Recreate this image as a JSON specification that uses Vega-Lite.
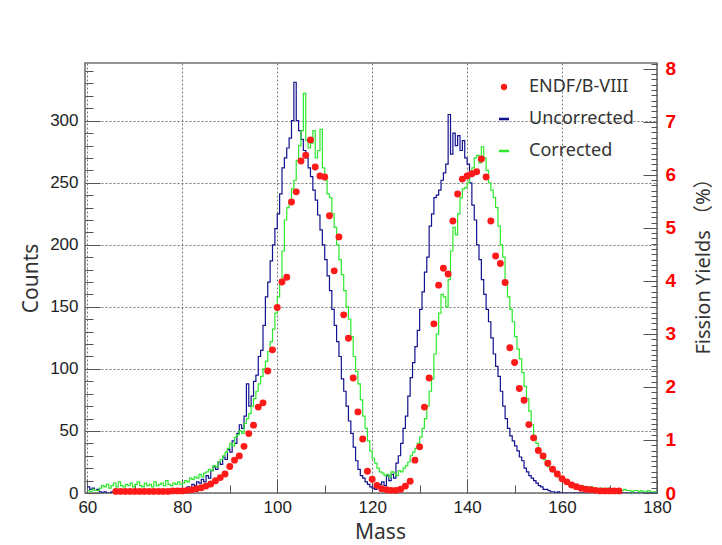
{
  "$schema": "https://vega.github.io/schema/vega-lite/v6.json",
  "width": 572,
  "height": 430,
  "autosize": {"type": "none"},
  "padding": {"left": 85, "top": 63, "right": 65, "bottom": 52},
  "background": "white",
  "config": {
    "view": {"stroke": "#707070", "strokeWidth": 1.6},
    "axis": {"domain": false, "labelFlush": false, "labelOverlap": false, "tickColor": "#555555", "tickWidth": 1}
  },
  "datasets": {
    "hist": [
      {"m":60,"Uncorrected":5,"Corrected":2},{"m":60.5,"Uncorrected":3,"Corrected":1},{"m":61,"Uncorrected":4,"Corrected":3},{"m":61.5,"Uncorrected":2,"Corrected":2},
      {"m":62,"Uncorrected":3,"Corrected":2},{"m":62.5,"Uncorrected":1,"Corrected":4},{"m":63,"Uncorrected":0,"Corrected":6},{"m":63.5,"Uncorrected":1,"Corrected":5},
      {"m":64,"Uncorrected":0,"Corrected":7},{"m":64.5,"Uncorrected":0,"Corrected":4},{"m":65,"Uncorrected":1,"Corrected":6},{"m":65.5,"Uncorrected":0,"Corrected":8},
      {"m":66,"Uncorrected":0,"Corrected":5},{"m":66.5,"Uncorrected":1,"Corrected":9},{"m":67,"Uncorrected":0,"Corrected":6},{"m":67.5,"Uncorrected":0,"Corrected":5},
      {"m":68,"Uncorrected":1,"Corrected":7},{"m":68.5,"Uncorrected":0,"Corrected":6},{"m":69,"Uncorrected":0,"Corrected":8},{"m":69.5,"Uncorrected":1,"Corrected":5},
      {"m":70,"Uncorrected":0,"Corrected":7},{"m":70.5,"Uncorrected":0,"Corrected":9},{"m":71,"Uncorrected":1,"Corrected":6},{"m":71.5,"Uncorrected":0,"Corrected":5},
      {"m":72,"Uncorrected":1,"Corrected":8},{"m":72.5,"Uncorrected":0,"Corrected":6},{"m":73,"Uncorrected":0,"Corrected":7},{"m":73.5,"Uncorrected":1,"Corrected":5},
      {"m":74,"Uncorrected":0,"Corrected":9},{"m":74.5,"Uncorrected":1,"Corrected":6},{"m":75,"Uncorrected":0,"Corrected":7},{"m":75.5,"Uncorrected":1,"Corrected":8},
      {"m":76,"Uncorrected":0,"Corrected":6},{"m":76.5,"Uncorrected":1,"Corrected":10},{"m":77,"Uncorrected":1,"Corrected":7},{"m":77.5,"Uncorrected":0,"Corrected":6},
      {"m":78,"Uncorrected":2,"Corrected":8},{"m":78.5,"Uncorrected":1,"Corrected":7},{"m":79,"Uncorrected":1,"Corrected":9},{"m":79.5,"Uncorrected":2,"Corrected":7},
      {"m":80,"Uncorrected":3,"Corrected":8},{"m":80.5,"Uncorrected":2,"Corrected":10},{"m":81,"Uncorrected":5,"Corrected":9},{"m":81.5,"Uncorrected":4,"Corrected":12},
      {"m":82,"Uncorrected":7,"Corrected":11},{"m":82.5,"Uncorrected":6,"Corrected":13},{"m":83,"Uncorrected":9,"Corrected":12},{"m":83.5,"Uncorrected":8,"Corrected":15},
      {"m":84,"Uncorrected":11,"Corrected":13},{"m":84.5,"Uncorrected":9,"Corrected":16},{"m":85,"Uncorrected":14,"Corrected":17},{"m":85.5,"Uncorrected":12,"Corrected":19},
      {"m":86,"Uncorrected":18,"Corrected":18},{"m":86.5,"Uncorrected":21,"Corrected":22},{"m":87,"Uncorrected":19,"Corrected":21},{"m":87.5,"Uncorrected":25,"Corrected":25},
      {"m":88,"Uncorrected":23,"Corrected":27},{"m":88.5,"Uncorrected":29,"Corrected":30},{"m":89,"Uncorrected":27,"Corrected":33},{"m":89.5,"Uncorrected":35,"Corrected":36},
      {"m":90,"Uncorrected":33,"Corrected":40},{"m":90.5,"Uncorrected":42,"Corrected":38},{"m":91,"Uncorrected":40,"Corrected":45},{"m":91.5,"Uncorrected":48,"Corrected":47},
      {"m":92,"Uncorrected":55,"Corrected":50},{"m":92.5,"Uncorrected":52,"Corrected":48},{"m":93,"Uncorrected":62,"Corrected":56},{"m":93.5,"Uncorrected":88,"Corrected":60},
      {"m":94,"Uncorrected":70,"Corrected":64},{"m":94.5,"Uncorrected":78,"Corrected":70},{"m":95,"Uncorrected":90,"Corrected":76},{"m":95.5,"Uncorrected":95,"Corrected":82},
      {"m":96,"Uncorrected":110,"Corrected":88},{"m":96.5,"Uncorrected":115,"Corrected":94},{"m":97,"Uncorrected":135,"Corrected":100},{"m":97.5,"Uncorrected":158,"Corrected":106},
      {"m":98,"Uncorrected":170,"Corrected":114},{"m":98.5,"Uncorrected":187,"Corrected":122},{"m":99,"Uncorrected":200,"Corrected":132},{"m":99.5,"Uncorrected":213,"Corrected":145},
      {"m":100,"Uncorrected":225,"Corrected":158},{"m":100.5,"Uncorrected":241,"Corrected":172},{"m":101,"Uncorrected":262,"Corrected":195},{"m":101.5,"Uncorrected":270,"Corrected":220},
      {"m":102,"Uncorrected":278,"Corrected":230},{"m":102.5,"Uncorrected":286,"Corrected":235},{"m":103,"Uncorrected":300,"Corrected":245},{"m":103.5,"Uncorrected":331,"Corrected":252},
      {"m":104,"Uncorrected":300,"Corrected":268},{"m":104.5,"Uncorrected":292,"Corrected":280},{"m":105,"Uncorrected":285,"Corrected":292},{"m":105.5,"Uncorrected":276,"Corrected":322},
      {"m":106,"Uncorrected":270,"Corrected":284},{"m":106.5,"Uncorrected":262,"Corrected":278},{"m":107,"Uncorrected":255,"Corrected":282},{"m":107.5,"Uncorrected":244,"Corrected":292},
      {"m":108,"Uncorrected":236,"Corrected":270},{"m":108.5,"Uncorrected":224,"Corrected":276},{"m":109,"Uncorrected":212,"Corrected":293},{"m":109.5,"Uncorrected":200,"Corrected":262},
      {"m":110,"Uncorrected":188,"Corrected":252},{"m":110.5,"Uncorrected":175,"Corrected":241},{"m":111,"Uncorrected":163,"Corrected":238},{"m":111.5,"Uncorrected":148,"Corrected":225},
      {"m":112,"Uncorrected":135,"Corrected":214},{"m":112.5,"Uncorrected":122,"Corrected":200},{"m":113,"Uncorrected":110,"Corrected":188},{"m":113.5,"Uncorrected":92,"Corrected":176},
      {"m":114,"Uncorrected":82,"Corrected":163},{"m":114.5,"Uncorrected":70,"Corrected":150},{"m":115,"Uncorrected":58,"Corrected":140},{"m":115.5,"Uncorrected":48,"Corrected":126},
      {"m":116,"Uncorrected":37,"Corrected":110},{"m":116.5,"Uncorrected":26,"Corrected":98},{"m":117,"Uncorrected":19,"Corrected":88},{"m":117.5,"Uncorrected":14,"Corrected":75},
      {"m":118,"Uncorrected":12,"Corrected":62},{"m":118.5,"Uncorrected":9,"Corrected":52},{"m":119,"Uncorrected":7,"Corrected":42},{"m":119.5,"Uncorrected":5,"Corrected":34},
      {"m":120,"Uncorrected":4,"Corrected":28},{"m":120.5,"Uncorrected":3,"Corrected":24},{"m":121,"Uncorrected":5,"Corrected":20},{"m":121.5,"Uncorrected":7,"Corrected":17},
      {"m":122,"Uncorrected":9,"Corrected":16},{"m":122.5,"Uncorrected":6,"Corrected":14},{"m":123,"Uncorrected":14,"Corrected":15},{"m":123.5,"Uncorrected":10,"Corrected":13},
      {"m":124,"Uncorrected":15,"Corrected":17},{"m":124.5,"Uncorrected":12,"Corrected":16},{"m":125,"Uncorrected":24,"Corrected":14},{"m":125.5,"Uncorrected":30,"Corrected":18},
      {"m":126,"Uncorrected":40,"Corrected":17},{"m":126.5,"Uncorrected":52,"Corrected":20},{"m":127,"Uncorrected":62,"Corrected":22},{"m":127.5,"Uncorrected":78,"Corrected":25},
      {"m":128,"Uncorrected":93,"Corrected":30},{"m":128.5,"Uncorrected":105,"Corrected":33},{"m":129,"Uncorrected":118,"Corrected":36},{"m":129.5,"Uncorrected":131,"Corrected":40},
      {"m":130,"Uncorrected":148,"Corrected":45},{"m":130.5,"Uncorrected":162,"Corrected":52},{"m":131,"Uncorrected":178,"Corrected":60},{"m":131.5,"Uncorrected":190,"Corrected":70},
      {"m":132,"Uncorrected":215,"Corrected":82},{"m":132.5,"Uncorrected":225,"Corrected":92},{"m":133,"Uncorrected":238,"Corrected":112},{"m":133.5,"Uncorrected":240,"Corrected":128},
      {"m":134,"Uncorrected":244,"Corrected":145},{"m":134.5,"Uncorrected":252,"Corrected":160},{"m":135,"Uncorrected":258,"Corrected":158},{"m":135.5,"Uncorrected":265,"Corrected":150},
      {"m":136,"Uncorrected":305,"Corrected":172},{"m":136.5,"Uncorrected":273,"Corrected":195},{"m":137,"Uncorrected":290,"Corrected":214},{"m":137.5,"Uncorrected":280,"Corrected":208},
      {"m":138,"Uncorrected":288,"Corrected":225},{"m":138.5,"Uncorrected":276,"Corrected":238},{"m":139,"Uncorrected":284,"Corrected":245},{"m":139.5,"Uncorrected":270,"Corrected":246},
      {"m":140,"Uncorrected":265,"Corrected":250},{"m":140.5,"Uncorrected":250,"Corrected":255},{"m":141,"Uncorrected":232,"Corrected":262},{"m":141.5,"Uncorrected":220,"Corrected":270},
      {"m":142,"Uncorrected":200,"Corrected":272},{"m":142.5,"Uncorrected":188,"Corrected":266},{"m":143,"Uncorrected":172,"Corrected":279},{"m":143.5,"Uncorrected":160,"Corrected":270},
      {"m":144,"Uncorrected":148,"Corrected":260},{"m":144.5,"Uncorrected":138,"Corrected":250},{"m":145,"Uncorrected":125,"Corrected":244},{"m":145.5,"Uncorrected":112,"Corrected":238},
      {"m":146,"Uncorrected":102,"Corrected":230},{"m":146.5,"Uncorrected":94,"Corrected":215},{"m":147,"Uncorrected":82,"Corrected":200},{"m":147.5,"Uncorrected":70,"Corrected":190},
      {"m":148,"Uncorrected":60,"Corrected":170},{"m":148.5,"Uncorrected":52,"Corrected":158},{"m":149,"Uncorrected":46,"Corrected":148},{"m":149.5,"Uncorrected":42,"Corrected":138},
      {"m":150,"Uncorrected":38,"Corrected":126},{"m":150.5,"Uncorrected":34,"Corrected":116},{"m":151,"Uncorrected":29,"Corrected":108},{"m":151.5,"Uncorrected":26,"Corrected":97},
      {"m":152,"Uncorrected":20,"Corrected":86},{"m":152.5,"Uncorrected":17,"Corrected":76},{"m":153,"Uncorrected":14,"Corrected":66},{"m":153.5,"Uncorrected":12,"Corrected":55},
      {"m":154,"Uncorrected":10,"Corrected":46},{"m":154.5,"Uncorrected":8,"Corrected":40},{"m":155,"Uncorrected":6,"Corrected":34},{"m":155.5,"Uncorrected":5,"Corrected":30},
      {"m":156,"Uncorrected":3,"Corrected":27},{"m":156.5,"Uncorrected":3,"Corrected":24},{"m":157,"Uncorrected":2,"Corrected":21},{"m":157.5,"Uncorrected":1,"Corrected":19},
      {"m":158,"Uncorrected":1,"Corrected":17},{"m":158.5,"Uncorrected":0,"Corrected":15},{"m":159,"Uncorrected":1,"Corrected":13},{"m":159.5,"Uncorrected":0,"Corrected":11},
      {"m":160,"Uncorrected":0,"Corrected":10},{"m":160.5,"Uncorrected":0,"Corrected":9},{"m":161,"Uncorrected":0,"Corrected":9},{"m":161.5,"Uncorrected":0,"Corrected":8},
      {"m":162,"Uncorrected":0,"Corrected":7},{"m":162.5,"Uncorrected":0,"Corrected":7},{"m":163,"Uncorrected":0,"Corrected":6},{"m":163.5,"Uncorrected":0,"Corrected":5},
      {"m":164,"Uncorrected":0,"Corrected":6},{"m":164.5,"Uncorrected":0,"Corrected":4},{"m":165,"Uncorrected":0,"Corrected":5},{"m":165.5,"Uncorrected":0,"Corrected":4},
      {"m":166,"Uncorrected":0,"Corrected":5},{"m":166.5,"Uncorrected":0,"Corrected":3},{"m":167,"Uncorrected":0,"Corrected":4},{"m":167.5,"Uncorrected":0,"Corrected":3},
      {"m":168,"Uncorrected":0,"Corrected":4},{"m":168.5,"Uncorrected":0,"Corrected":3},{"m":169,"Uncorrected":0,"Corrected":3},{"m":169.5,"Uncorrected":0,"Corrected":4},
      {"m":170,"Uncorrected":0,"Corrected":2},{"m":170.5,"Uncorrected":0,"Corrected":3},{"m":171,"Uncorrected":0,"Corrected":2},{"m":171.5,"Uncorrected":0,"Corrected":3},
      {"m":172,"Uncorrected":0,"Corrected":2},{"m":172.5,"Uncorrected":0,"Corrected":2},{"m":173,"Uncorrected":0,"Corrected":3},{"m":173.5,"Uncorrected":0,"Corrected":2},
      {"m":174,"Uncorrected":0,"Corrected":2},{"m":174.5,"Uncorrected":0,"Corrected":1},{"m":175,"Uncorrected":0,"Corrected":2},{"m":175.5,"Uncorrected":0,"Corrected":2},
      {"m":176,"Uncorrected":0,"Corrected":1},{"m":176.5,"Uncorrected":0,"Corrected":2},{"m":177,"Uncorrected":0,"Corrected":1},{"m":177.5,"Uncorrected":0,"Corrected":1},
      {"m":178,"Uncorrected":0,"Corrected":2},{"m":178.5,"Uncorrected":0,"Corrected":1},{"m":179,"Uncorrected":0,"Corrected":1},{"m":179.5,"Uncorrected":0,"Corrected":1},
      {"m":180,"Uncorrected":0,"Corrected":1}
    ],
    "endf": [
      {"m":66,"y":0.03,"s":"ENDF/B-VIII"},{"m":67,"y":0.03,"s":"ENDF/B-VIII"},{"m":68,"y":0.03,"s":"ENDF/B-VIII"},{"m":69,"y":0.03,"s":"ENDF/B-VIII"},
      {"m":70,"y":0.03,"s":"ENDF/B-VIII"},{"m":71,"y":0.03,"s":"ENDF/B-VIII"},{"m":72,"y":0.03,"s":"ENDF/B-VIII"},{"m":73,"y":0.03,"s":"ENDF/B-VIII"},
      {"m":74,"y":0.03,"s":"ENDF/B-VIII"},{"m":75,"y":0.03,"s":"ENDF/B-VIII"},{"m":76,"y":0.03,"s":"ENDF/B-VIII"},{"m":77,"y":0.03,"s":"ENDF/B-VIII"},
      {"m":78,"y":0.04,"s":"ENDF/B-VIII"},{"m":79,"y":0.04,"s":"ENDF/B-VIII"},{"m":80,"y":0.04,"s":"ENDF/B-VIII"},{"m":81,"y":0.05,"s":"ENDF/B-VIII"},
      {"m":82,"y":0.06,"s":"ENDF/B-VIII"},{"m":83,"y":0.08,"s":"ENDF/B-VIII"},{"m":84,"y":0.1,"s":"ENDF/B-VIII"},{"m":85,"y":0.13,"s":"ENDF/B-VIII"},
      {"m":86,"y":0.17,"s":"ENDF/B-VIII"},{"m":87,"y":0.23,"s":"ENDF/B-VIII"},{"m":88,"y":0.29,"s":"ENDF/B-VIII"},{"m":89,"y":0.36,"s":"ENDF/B-VIII"},
      {"m":90,"y":0.5,"s":"ENDF/B-VIII"},{"m":91,"y":0.62,"s":"ENDF/B-VIII"},{"m":92,"y":0.7,"s":"ENDF/B-VIII"},{"m":93,"y":0.88,"s":"ENDF/B-VIII"},
      {"m":94,"y":1.12,"s":"ENDF/B-VIII"},{"m":95,"y":1.28,"s":"ENDF/B-VIII"},{"m":96,"y":1.62,"s":"ENDF/B-VIII"},{"m":97,"y":1.7,"s":"ENDF/B-VIII"},
      {"m":98,"y":2.3,"s":"ENDF/B-VIII"},{"m":99,"y":2.7,"s":"ENDF/B-VIII"},{"m":100,"y":3.5,"s":"ENDF/B-VIII"},{"m":101,"y":3.98,"s":"ENDF/B-VIII"},
      {"m":102,"y":4.07,"s":"ENDF/B-VIII"},{"m":103,"y":5.49,"s":"ENDF/B-VIII"},{"m":104,"y":5.68,"s":"ENDF/B-VIII"},{"m":105,"y":6.26,"s":"ENDF/B-VIII"},
      {"m":106,"y":6.37,"s":"ENDF/B-VIII"},{"m":107,"y":6.66,"s":"ENDF/B-VIII"},{"m":108,"y":6.15,"s":"ENDF/B-VIII"},{"m":109,"y":5.98,"s":"ENDF/B-VIII"},
      {"m":110,"y":5.96,"s":"ENDF/B-VIII"},{"m":111,"y":5.23,"s":"ENDF/B-VIII"},{"m":112,"y":4.19,"s":"ENDF/B-VIII"},{"m":113,"y":4.83,"s":"ENDF/B-VIII"},
      {"m":114,"y":3.36,"s":"ENDF/B-VIII"},{"m":115,"y":2.92,"s":"ENDF/B-VIII"},{"m":116,"y":2.17,"s":"ENDF/B-VIII"},{"m":117,"y":1.53,"s":"ENDF/B-VIII"},
      {"m":118,"y":1.02,"s":"ENDF/B-VIII"},{"m":119,"y":0.41,"s":"ENDF/B-VIII"},{"m":120,"y":0.26,"s":"ENDF/B-VIII"},{"m":121,"y":0.14,"s":"ENDF/B-VIII"},
      {"m":122,"y":0.08,"s":"ENDF/B-VIII"},{"m":123,"y":0.06,"s":"ENDF/B-VIII"},{"m":124,"y":0.05,"s":"ENDF/B-VIII"},{"m":125,"y":0.05,"s":"ENDF/B-VIII"},
      {"m":126,"y":0.07,"s":"ENDF/B-VIII"},{"m":127,"y":0.13,"s":"ENDF/B-VIII"},{"m":128,"y":0.22,"s":"ENDF/B-VIII"},{"m":129,"y":0.62,"s":"ENDF/B-VIII"},
      {"m":130,"y":0.87,"s":"ENDF/B-VIII"},{"m":131,"y":1.62,"s":"ENDF/B-VIII"},{"m":132,"y":2.17,"s":"ENDF/B-VIII"},{"m":133,"y":3.19,"s":"ENDF/B-VIII"},
      {"m":134,"y":3.92,"s":"ENDF/B-VIII"},{"m":135,"y":4.24,"s":"ENDF/B-VIII"},{"m":136,"y":4.13,"s":"ENDF/B-VIII"},{"m":137,"y":5.13,"s":"ENDF/B-VIII"},
      {"m":138,"y":5.64,"s":"ENDF/B-VIII"},{"m":139,"y":5.92,"s":"ENDF/B-VIII"},{"m":140,"y":5.98,"s":"ENDF/B-VIII"},{"m":141,"y":6.02,"s":"ENDF/B-VIII"},
      {"m":142,"y":6.06,"s":"ENDF/B-VIII"},{"m":143,"y":6.3,"s":"ENDF/B-VIII"},{"m":144,"y":5.96,"s":"ENDF/B-VIII"},{"m":145,"y":5.13,"s":"ENDF/B-VIII"},
      {"m":146,"y":4.47,"s":"ENDF/B-VIII"},{"m":147,"y":4.33,"s":"ENDF/B-VIII"},{"m":148,"y":3.97,"s":"ENDF/B-VIII"},{"m":149,"y":2.74,"s":"ENDF/B-VIII"},
      {"m":150,"y":2.46,"s":"ENDF/B-VIII"},{"m":151,"y":1.97,"s":"ENDF/B-VIII"},{"m":152,"y":1.75,"s":"ENDF/B-VIII"},{"m":153,"y":1.29,"s":"ENDF/B-VIII"},
      {"m":154,"y":1.04,"s":"ENDF/B-VIII"},{"m":155,"y":0.8,"s":"ENDF/B-VIII"},{"m":156,"y":0.7,"s":"ENDF/B-VIII"},{"m":157,"y":0.56,"s":"ENDF/B-VIII"},
      {"m":158,"y":0.45,"s":"ENDF/B-VIII"},{"m":159,"y":0.36,"s":"ENDF/B-VIII"},{"m":160,"y":0.27,"s":"ENDF/B-VIII"},{"m":161,"y":0.21,"s":"ENDF/B-VIII"},
      {"m":162,"y":0.15,"s":"ENDF/B-VIII"},{"m":163,"y":0.12,"s":"ENDF/B-VIII"},{"m":164,"y":0.09,"s":"ENDF/B-VIII"},{"m":165,"y":0.07,"s":"ENDF/B-VIII"},
      {"m":166,"y":0.06,"s":"ENDF/B-VIII"},{"m":167,"y":0.05,"s":"ENDF/B-VIII"},{"m":168,"y":0.04,"s":"ENDF/B-VIII"},{"m":169,"y":0.04,"s":"ENDF/B-VIII"},
      {"m":170,"y":0.04,"s":"ENDF/B-VIII"},{"m":171,"y":0.04,"s":"ENDF/B-VIII"},{"m":172,"y":0.04,"s":"ENDF/B-VIII"}
    ]
  },
  "layer": [
    {
      "data": {"name": "hist"},
      "transform": [{"fold": ["Uncorrected", "Corrected"], "as": ["series", "count"]}],
      "mark": {"type": "line", "interpolate": "step-after", "strokeWidth": 1.2, "clip": true},
      "encoding": {
        "x": {
          "field": "m", "type": "quantitative",
          "scale": {"domain": [59.5, 180], "nice": false, "zero": false},
          "axis": {
            "values": [60,65,70,75,80,85,90,95,100,105,110,115,120,125,130,135,140,145,150,155,160,165,170,175,180],
            "labelExpr": "datum.value % 20 === 0 ? datum.label : ''",
            "format": "d",
            "tickSize": {"condition": {"test": "datum.value % 20 === 0", "value": -14}, "value": -8},
            "labelPadding": 20,
            "grid": true,
            "gridOpacity": {"condition": {"test": "datum.value % 20 === 0", "value": 1}, "value": 0},
            "gridDash": [2, 2], "gridColor": "#777777", "gridWidth": 1,
            "labelFont": "Liberation Sans", "labelFontSize": 17, "labelColor": "#222222",
            "title": "Mass", "titleFont": "Noto Sans", "titleFontSize": 21, "titleFontWeight": "normal", "titleColor": "#333333",
            "titlePadding": 0, "titleX": 295
          }
        },
        "y": {
          "field": "count", "type": "quantitative",
          "scale": {"domain": [0, 346.5], "nice": false, "zero": true},
          "axis": {
            "orient": "left",
            "values": [0,10,20,30,40,50,60,70,80,90,100,110,120,130,140,150,160,170,180,190,200,210,220,230,240,250,260,270,280,290,300,310,320,330,340],
            "labelExpr": "datum.value % 50 === 0 ? datum.label : ''",
            "format": "d",
            "tickSize": {"condition": {"test": "datum.value % 50 === 0", "value": -15}, "value": -8},
            "labelPadding": 22,
            "grid": true,
            "gridOpacity": {"condition": {"test": "datum.value % 50 === 0", "value": 1}, "value": 0},
            "gridDash": [2, 2], "gridColor": "#777777", "gridWidth": 1,
            "labelFont": "Liberation Sans", "labelFontSize": 17, "labelColor": "#222222",
            "title": "Counts", "titleFont": "Noto Sans", "titleFontSize": 21, "titleFontWeight": "normal", "titleColor": "#333333", "titlePadding": 8
          }
        },
        "color": {
          "field": "series", "type": "nominal",
          "scale": {"domain": ["ENDF/B-VIII", "Uncorrected", "Corrected"], "range": ["#ff1a1a", "#12128f", "#2ee82e"]},
          "legend": null
        }
      }
    },
    {
      "data": {"name": "endf"},
      "mark": {"type": "point", "filled": true, "opacity": 1, "size": 48, "strokeWidth": 0},
      "encoding": {
        "x": {"field": "m", "type": "quantitative"},
        "y": {
          "field": "y", "type": "quantitative",
          "scale": {"domain": [0, 8.11], "nice": false, "zero": true},
          "axis": {
            "orient": "right",
            "values": [0,0.1,0.2,0.3,0.4,0.5,0.6,0.7,0.8,0.9,1,1.1,1.2,1.3,1.4,1.5,1.6,1.7,1.8,1.9,2,2.1,2.2,2.3,2.4,2.5,2.6,2.7,2.8,2.9,3,3.1,3.2,3.3,3.4,3.5,3.6,3.7,3.8,3.9,4,4.1,4.2,4.3,4.4,4.5,4.6,4.7,4.8,4.9,5,5.1,5.2,5.3,5.4,5.5,5.6,5.7,5.8,5.9,6,6.1,6.2,6.3,6.4,6.5,6.6,6.7,6.8,6.9,7,7.1,7.2,7.3,7.4,7.5,7.6,7.7,7.8,7.9,8,8.1],
            "labelExpr": "abs(datum.value - round(datum.value)) < 0.01 ? format(datum.value, 'd') : ''",
            "tickSize": {"condition": {"test": "abs(datum.value - round(datum.value)) < 0.01", "value": -14}, "value": -6},
            "labelPadding": 22,
            "grid": false,
            "labelFont": "Liberation Sans", "labelFontSize": 19, "labelFontWeight": "bold", "labelColor": "#ff0000",
            "title": "Fission Yields （%）", "titleFont": "Noto Sans, Noto Sans CJK SC", "titleFontSize": 20, "titleFontWeight": "normal", "titleColor": "#333333",
            "titleAngle": 270, "titlePadding": 38, "titleY": 198
          }
        },
        "color": {
          "field": "s", "type": "nominal",
          "legend": {
            "orient": "none", "legendX": 410, "legendY": 15, "title": null,
            "labelFont": "Noto Sans", "labelFontSize": 18, "labelColor": "#333333",
            "symbolSize": 40, "symbolStrokeWidth": 0, "rowPadding": 14, "labelOffset": 16
          }
        },
        "shape": {
          "field": "s", "type": "nominal",
          "scale": {"domain": ["ENDF/B-VIII", "Uncorrected", "Corrected"], "range": ["circle", "M-1.6,-0.4H1.6V0.4H-1.6Z", "M-1.6,-0.4H1.6V0.4H-1.6Z"]},
          "legend": {
            "orient": "none", "legendX": 410, "legendY": 15, "title": null,
            "labelFont": "Noto Sans", "labelFontSize": 18, "labelColor": "#333333",
            "symbolSize": 40, "symbolStrokeWidth": 0, "rowPadding": 14, "labelOffset": 16
          }
        }
      }
    }
  ],
  "resolve": {"scale": {"y": "independent"}, "legend": {"color": "independent", "shape": "independent"}}
}
